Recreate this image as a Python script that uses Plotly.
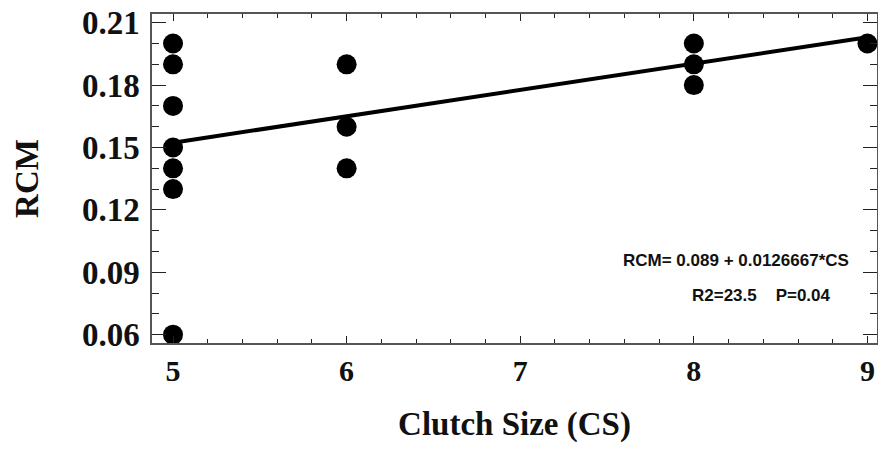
import plotly.graph_objects as go

# Observations: clutch size vs relative clutch mass
clutch_size = [5, 5, 5, 5, 5, 5, 5, 6, 6, 6, 8, 8, 8, 9]
rcm = [0.20, 0.19, 0.17, 0.15, 0.14, 0.13, 0.06, 0.19, 0.16, 0.14, 0.20, 0.19, 0.18, 0.20]

# Fitted regression RCM = a + b*CS
intercept = 0.089
slope = 0.0126667
fit_x = [5, 9]
fit_y = [intercept + slope * x for x in fit_x]

x_ticks = [5, 6, 7, 8, 9]
y_ticks = [0.06, 0.09, 0.12, 0.15, 0.18, 0.21]

fig = go.Figure()
fig.add_trace(go.Scatter(
    x=fit_x, y=fit_y, mode="lines",
    line=dict(color="black", width=4), hoverinfo="skip", showlegend=False,
))
fig.add_trace(go.Scatter(
    x=clutch_size, y=rcm, mode="markers",
    marker=dict(color="black", size=20, line=dict(width=0)), showlegend=False,
))

serif = "Liberation Serif, Times New Roman, serif"
axis_common = dict(
    showgrid=False, zeroline=False, showline=True, linecolor="#555", linewidth=1.5,
    mirror="ticks", ticks="inside", tickcolor="#222", tickwidth=1.2, automargin=False,
)

fig.update_xaxes(
    range=[4.879, 9.055], tickvals=x_ticks, ticktext=[str(v) for v in x_ticks],
    ticklen=7,
    tickfont=dict(family=serif, size=30, color="#111", weight="bold"),
    minor=dict(dtick=0.2, ticks="inside", ticklen=4, tickcolor="#222", tickwidth=1),
    title=dict(text="Clutch Size (CS)", font=dict(family=serif, size=33, color="#111", weight="bold"), standoff=26),
    **axis_common,
)
fig.update_yaxes(
    range=[0.056, 0.2142], tickvals=y_ticks, ticktext=[f"{v:.2f}" for v in y_ticks],
    ticklen=14, ticklabelstandoff=4,
    tickfont=dict(family=serif, size=33, color="#111", weight="bold"),
    minor=dict(dtick=0.01, tick0=0.06, ticks="inside", ticklen=7, tickcolor="#222", tickwidth=1),
    title=dict(text="RCM", font=dict(family=serif, size=33, color="#111", weight="bold"), standoff=33),
    **axis_common,
)

sans = "Liberation Sans, Arial, sans-serif"
# annotation positions in pixels, converted to plot-domain fractions below
ann_px = [(736, 260, "RCM= 0.089 + 0.0126667*CS"), (761, 295, "R2=23.5    P=0.04")]

L, R, T, B = 152, 1, 14, 106
W, H = 878, 449
pw, ph = W - L - R, H - T - B
for px, py, txt in ann_px:
    fig.add_annotation(
        x=(px - L) / pw, y=1 - (py - T) / ph, xref="x domain", yref="y domain",
        xanchor="center", yanchor="middle", text=txt, showarrow=False,
        font=dict(family=sans, size=17, color="#111", weight="bold"),
    )

fig.update_layout(
    width=W, height=H, margin=dict(l=L, r=R, t=T, b=B),
    paper_bgcolor="white", plot_bgcolor="white",
)
fig.write_html("out.html")
